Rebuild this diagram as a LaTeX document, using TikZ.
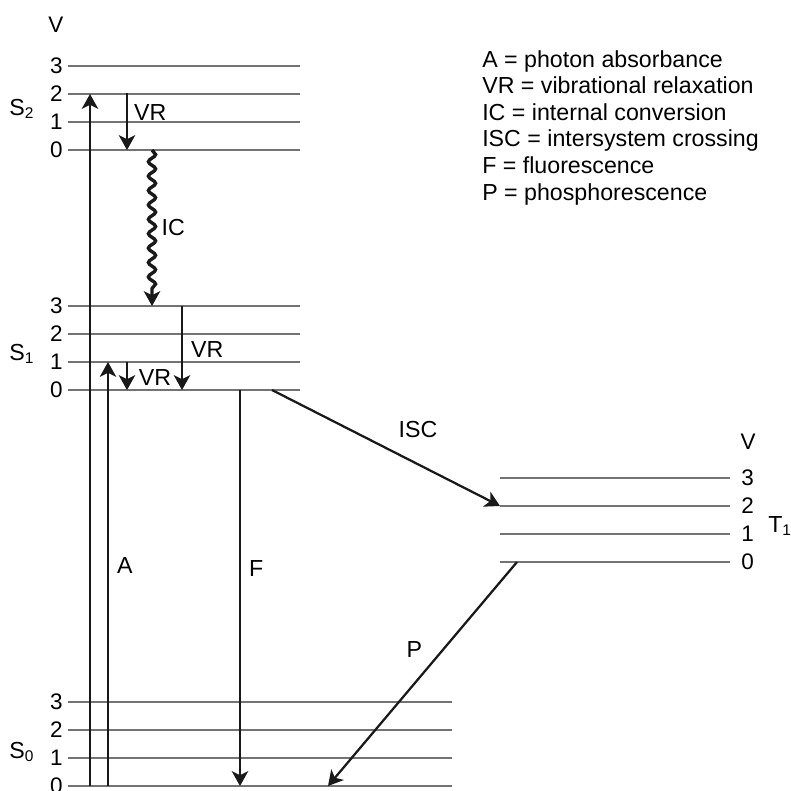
\documentclass[tikz,border=0pt]{standalone}
\usepackage{fontspec}
\setmainfont{Liberation Sans}
\usetikzlibrary{arrows.meta,decorations.pathmorphing}

\newcommand{\estado}[2]{#1\raisebox{-0.3ex}{\fontsize{11}{11}\selectfont #2}}

\begin{document}
\begin{tikzpicture}[
  x=0.25mm, y=-0.25mm,
  nivel/.style={draw=black!55, line width=1.5pt},
  flecha/.style={-{Stealth[length=3.7mm, width=4.1mm, inset=1mm]}, line width=1.6pt, draw=black!90},
  onda/.style={flecha, line width=2.4pt, decorate, decoration={snake, amplitude=0.9mm, segment length=3.6mm, post length=3.7mm}},
  num/.style={font=\fontsize{16}{19}\selectfont, inner sep=0pt},
  etiq/.style={font=\fontsize{16.5}{19}\selectfont, inner sep=0pt}
]
\useasboundingbox (0,0) rectangle (791,791);

% niveles vibracionales de S2, S1 y S0
\foreach \est/\base/\xr in {S2/150/300, S1/390/300, S0/786/452}{
  \foreach \v in {0,...,3}{
    \node[num, anchor=east] (\est n\v) at (63,\base-28*\v) {\v};
    \draw[nivel] (68,\base-28*\v) coordinate (\est l\v) -- (\xr,\base-28*\v) coordinate (\est r\v);
  }
}
% niveles de T1
\foreach \v in {0,...,3}{
  \draw[nivel] (500,562-28*\v) coordinate (T1l\v) -- (730,562-28*\v) coordinate (T1r\v);
  \node[num, anchor=west] (T1n\v) at (741,562-28*\v) {\v};
}

\node[num] (vS) at (56,25) {V};
\node[num] (vT) at (748,442) {V};
\node[etiq, anchor=base west] (S2) at (9,115) {\estado{S}{2}};
\node[etiq, anchor=base west] (S1) at (9,360) {\estado{S}{1}};
\node[etiq, anchor=base west] (S0) at (9,758) {\estado{S}{0}};
\node[etiq, anchor=base west] (T1) at (768,532) {\estado{T}{1}};

% leyenda
\foreach \i/\txt in {0/A = photon absorbance, 1/VR = vibrational relaxation, 2/IC = internal conversion,
                     3/ISC = intersystem crossing, 4/F = fluorescence, 5/P = phosphorescence}
  \node[etiq, anchor=base west] (ley\i) at (482,67+26.6*\i) {\txt};

% transiciones
\coordinate (abs2) at (90,786);
\coordinate (abs1) at (108,786);
\coordinate (vr2) at (127,93);
\coordinate (ic) at (152,150);
\coordinate (vr1) at (182,306);
\coordinate (vr0) at (127,362);
\coordinate (fl) at (240,390);
\coordinate (isc) at (272,390);
\coordinate (ph) at (517,562);
\coordinate (ph0) at (328,786);

\draw[flecha] (abs2) -- (abs2 |- S2l2);
\draw[flecha] (abs1) -- node[etiq, pos=0.52, right=2mm] (labA) {A} (abs1 |- S1l1);
\draw[flecha] (vr2) -- node[etiq, pos=0.35, right=1.5mm] (labVR2) {VR} (vr2 |- S2l0);
\draw[onda] (ic) -- node[etiq, pos=0.5, right=2mm] (labIC) {IC} (ic |- S1l3);
\draw[flecha] (vr1) -- node[etiq, pos=0.52, right=2mm] (labVR1) {VR} (vr1 |- S1l0);
\draw[flecha] (vr0) -- node[etiq, pos=0.57, right=2.7mm] (labVR0) {VR} (vr0 |- S1l0);
\draw[flecha] (fl) -- node[etiq, pos=0.45, right=2mm] (labF) {F} (fl |- S0l0);
\draw[flecha] (isc) -- node[etiq, pos=0.64, above=6.3mm] (labISC) {ISC} (T1l2);
\draw[flecha] (ph) -- node[etiq, pos=0.39, left=5mm] (labP) {P} (ph0);
\end{tikzpicture}
\end{document}
